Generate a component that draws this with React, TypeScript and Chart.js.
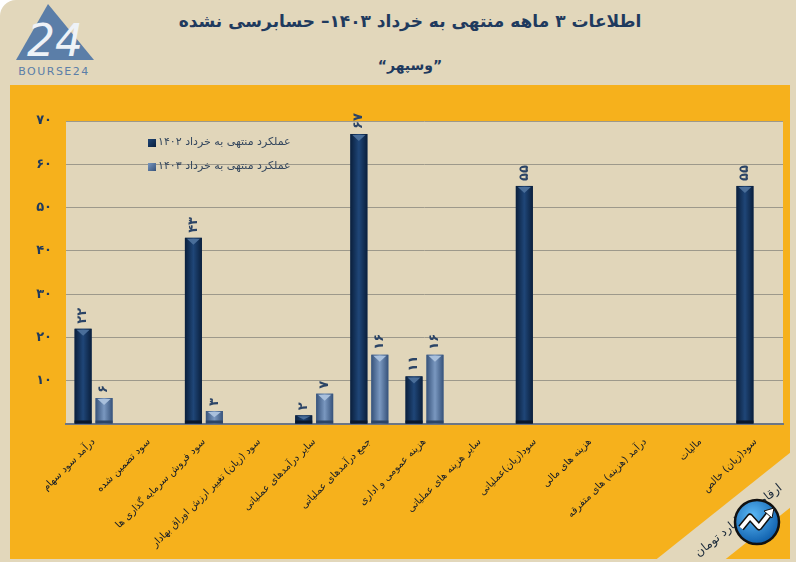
import React, { useEffect, useRef } from "react";
import { Chart, registerables } from "chart.js";

Chart.register(...registerables);

const categories = [
  "درآمد سود سهام",
  "سود تضمین شده",
  "سود فروش سرمایه گذاری ها",
  "سود (زیان) تغییر ارزش اوراق بهادار",
  "سایر درآمدهای عملیاتی",
  "جمع درآمدهای عملیاتی",
  "هزینه عمومی و اداری",
  "سایر هزینه های عملیاتی",
  "سود(زیان)عملیاتی",
  "هزینه های مالی",
  "درآمد (هزینه) های متفرقه",
  "مالیات",
  "سود(زیان) خالص",
];
const values1402 = [22, 0, 43, 0, 2, 67, 11, 0, 55, 0, 0, 0, 55];
const values1403 = [6, 0, 3, 0, 7, 16, 16, 0, 0, 0, 0, 0, 0];
const seriesNames = ["عملکرد منتهی به خرداد ۱۴۰۲", "عملکرد منتهی به خرداد ۱۴۰۳"];
const yMin = 0;
const yMax = 70;
const yStep = 10;

const titleText = "اطلاعات ۳  ماهه منتهی به خرداد ۱۴۰۳– حسابرسی نشده";
const subtitleText = "\u201Dوسپهر\u201C";
const unitText = "ارقام به میلیارد تومان";

const FONT = "'DejaVu Sans', 'Noto Sans', sans-serif";
const ORANGE = "#f6b11c";
const BEIGE = "#e2d7bb";
const NAVY = "#1f3a5e";

const toFa = (n: number | string) =>
  String(n).replace(/[0-9]/g, (d) => "۰۱۲۳۴۵۶۷۸۹"[Number(d)]);

const barStyles = [
  { base: "#12305a", edge: "#0a1f3c", mid: "#1f4678", tri: "#4a6e99", foot: "#08172c" },
  { base: "#4f6e98", edge: "#36527a", mid: "#7a98c0", tri: "#a9c0dc", foot: "#2c4466" },
];

const plotBgPlugin = {
  id: "plotBg",
  beforeDraw(chart: any) {
    const { ctx, chartArea: a } = chart;
    ctx.save();
    ctx.fillStyle = "#e1d6ba";
    ctx.fillRect(a.left, a.top, a.right - a.left, a.bottom - a.top);
    ctx.restore();
  },
};

const barDecorPlugin = {
  id: "barDecor",
  afterDatasetsDraw(chart: any) {
    const ctx = chart.ctx;
    chart.data.datasets.forEach((ds: any, di: number) => {
      const meta = chart.getDatasetMeta(di);
      const st = barStyles[di];
      meta.data.forEach((el: any, i: number) => {
        const v = ds.data[i];
        if (!v) return;
        const { x, y, base, width } = el.getProps(["x", "y", "base", "width"], true);
        const l = x - width / 2;
        const r = x + width / 2;
        ctx.save();
        const g = ctx.createLinearGradient(l, 0, r, 0);
        g.addColorStop(0, st.edge);
        g.addColorStop(0.5, st.mid);
        g.addColorStop(1, st.edge);
        ctx.fillStyle = g;
        ctx.fillRect(l, y, width, base - y);
        const th = Math.min(7, (base - y) / 2);
        ctx.fillStyle = st.tri;
        ctx.beginPath();
        ctx.moveTo(l + 2, y + 1);
        ctx.lineTo(r - 2, y + 1);
        ctx.lineTo(x, y + th);
        ctx.closePath();
        ctx.fill();
        ctx.fillStyle = st.foot;
        ctx.fillRect(l, base - Math.min(3, base - y), width, Math.min(3, base - y));
        ctx.restore();
        ctx.save();
        ctx.translate(x, y - 5);
        ctx.rotate(-Math.PI / 2);
        ctx.font = `bold 13px ${FONT}`;
        ctx.fillStyle = "#2b4466";
        ctx.textAlign = "left";
        ctx.textBaseline = "middle";
        ctx.fillText(toFa(v), 0, 0);
        ctx.restore();
      });
    });
  },
};

const legendPlugin = {
  id: "innerLegend",
  afterDraw(chart: any) {
    const { ctx, chartArea: a } = chart;
    chart.data.datasets.forEach((ds: any, di: number) => {
      const st = barStyles[di];
      const sx = a.left + 82;
      const sy = a.top + 18 + di * 24;
      ctx.save();
      const g = ctx.createLinearGradient(sx, sy, sx + 8, sy + 8);
      g.addColorStop(0, st.mid);
      g.addColorStop(1, st.edge);
      ctx.fillStyle = g;
      ctx.fillRect(sx, sy, 8, 8);
      ctx.font = `11px ${FONT}`;
      ctx.fillStyle = "#34475e";
      ctx.textAlign = "left";
      ctx.textBaseline = "middle";
      ctx.fillText(ds.label, sx + 10, sy + 3);
      ctx.restore();
    });
  },
};

function ChartBox() {
  const ref = useRef<HTMLCanvasElement | null>(null);
  useEffect(() => {
    if (!ref.current) return;
    const chart = new Chart(ref.current, {
      type: "bar",
      data: {
        labels: categories,
        datasets: [
          {
            label: seriesNames[0],
            data: values1402,
            backgroundColor: barStyles[0].base,
            borderWidth: 0,
            categoryPercentage: 0.76,
            barPercentage: 0.81,
          },
          {
            label: seriesNames[1],
            data: values1403,
            backgroundColor: barStyles[1].base,
            borderWidth: 0,
            categoryPercentage: 0.76,
            barPercentage: 0.81,
          },
        ],
      },
      options: {
        responsive: false,
        animation: false,
        events: [],
        layout: { padding: { top: 36, right: 7, left: 0, bottom: 0 } },
        plugins: {
          legend: { display: false },
          tooltip: { enabled: false },
          title: { display: false },
        },
        scales: {
          x: {
            grid: { display: false },
            border: { display: true, color: "#6b7687", width: 2 },
            ticks: {
              autoSkip: false,
              minRotation: 45,
              maxRotation: 45,
              padding: 4,
              color: "#151c28",
              font: { family: FONT, size: 10 },
            },
            afterFit(scale: any) {
              scale.height = 135;
            },
          },
          y: {
            min: yMin,
            max: yMax,
            border: { display: false },
            grid: {
              color: (c: any) => (c.tick && c.tick.value === 0 ? "rgba(0,0,0,0)" : "#9d998b"),
              lineWidth: 1,
              drawTicks: false,
            },
            ticks: {
              stepSize: yStep,
              padding: 14,
              color: NAVY,
              font: { family: FONT, size: 13, weight: "bold" },
              callback: (v: any) => (Number(v) === 0 ? "" : toFa(v)),
            },
            afterFit(scale: any) {
              scale.width = 56;
            },
          },
        },
      },
      plugins: [plotBgPlugin, barDecorPlugin, legendPlugin],
    } as any);
    return () => chart.destroy();
  }, []);
  return <canvas ref={ref} width={780} height={474} style={{ display: "block" }} />;
}

export default function App() {
  return (
    <div
      style={{
        position: "absolute",
        left: 0,
        top: 0,
        width: 796,
        height: 562,
        background: "#ffffff",
        overflow: "hidden",
        fontFamily: FONT,
      }}
    >
      <div
        style={{
          position: "absolute",
          inset: 0,
          background: BEIGE,
          borderTopLeftRadius: 16,
        }}
      />
      <svg width={110} height={80} style={{ position: "absolute", left: 8, top: 0 }}>
        <polygon points="8,60 40,4 86,60" fill="#5b7ea8" />
        <text x="47" y="56" textAnchor="middle" fontFamily={FONT} fontSize="44" fill="#eef2f7" fontStyle="italic">
          24
        </text>
        <text x="46" y="75" textAnchor="middle" fontFamily={FONT} fontSize="11" fill="#5b7ea8" letterSpacing="1.5">
          BOURSE24
        </text>
      </svg>
      <div
        style={{
          position: "absolute",
          left: 110,
          width: 600,
          top: 11,
          textAlign: "center",
          direction: "rtl",
          fontWeight: "bold",
          fontSize: 17,
          color: NAVY,
          whiteSpace: "nowrap",
        }}
      >
        {titleText}
      </div>
      <div
        style={{
          position: "absolute",
          left: 310,
          width: 200,
          top: 57,
          textAlign: "center",
          direction: "rtl",
          fontWeight: "bold",
          fontSize: 14,
          color: NAVY,
        }}
      >
        {subtitleText}
      </div>
      <div style={{ position: "absolute", left: 10, top: 85, width: 780, height: 474, background: ORANGE }}>
        <ChartBox />
      </div>
      <div
        style={{
          position: "absolute",
          inset: 0,
          background: BEIGE,
          clipPath: "polygon(653px 562px, 796px 448px, 796px 503px, 722px 562px)",
        }}
      />
      <div
        style={{
          position: "absolute",
          left: 738,
          top: 520,
          transform: "translate(-50%, -50%) rotate(-39deg)",
          direction: "rtl",
          fontSize: 12,
          color: "#1b2a3a",
          whiteSpace: "nowrap",
        }}
      >
        {unitText}
      </div>
      <svg width={48} height={48} style={{ position: "absolute", left: 733, top: 498 }}>
        <defs>
          <radialGradient id="ig" cx="40%" cy="35%" r="70%">
            <stop offset="0%" stopColor="#5bb8f5" />
            <stop offset="100%" stopColor="#0a5aa8" />
          </radialGradient>
        </defs>
        <circle cx="24" cy="24" r="22" fill="url(#ig)" stroke="#111" strokeWidth="2.5" />
        <polyline points="8,30 17,19 26,29 37,15" fill="none" stroke="#111" strokeWidth="7" strokeLinejoin="round" />
        <polyline points="8,30 17,19 26,29 37,15" fill="none" stroke="#fff" strokeWidth="4" strokeLinejoin="round" />
        <polygon points="31,13 41,10 39,20" fill="#fff" stroke="#111" strokeWidth="1" />
      </svg>
    </div>
  );
}
